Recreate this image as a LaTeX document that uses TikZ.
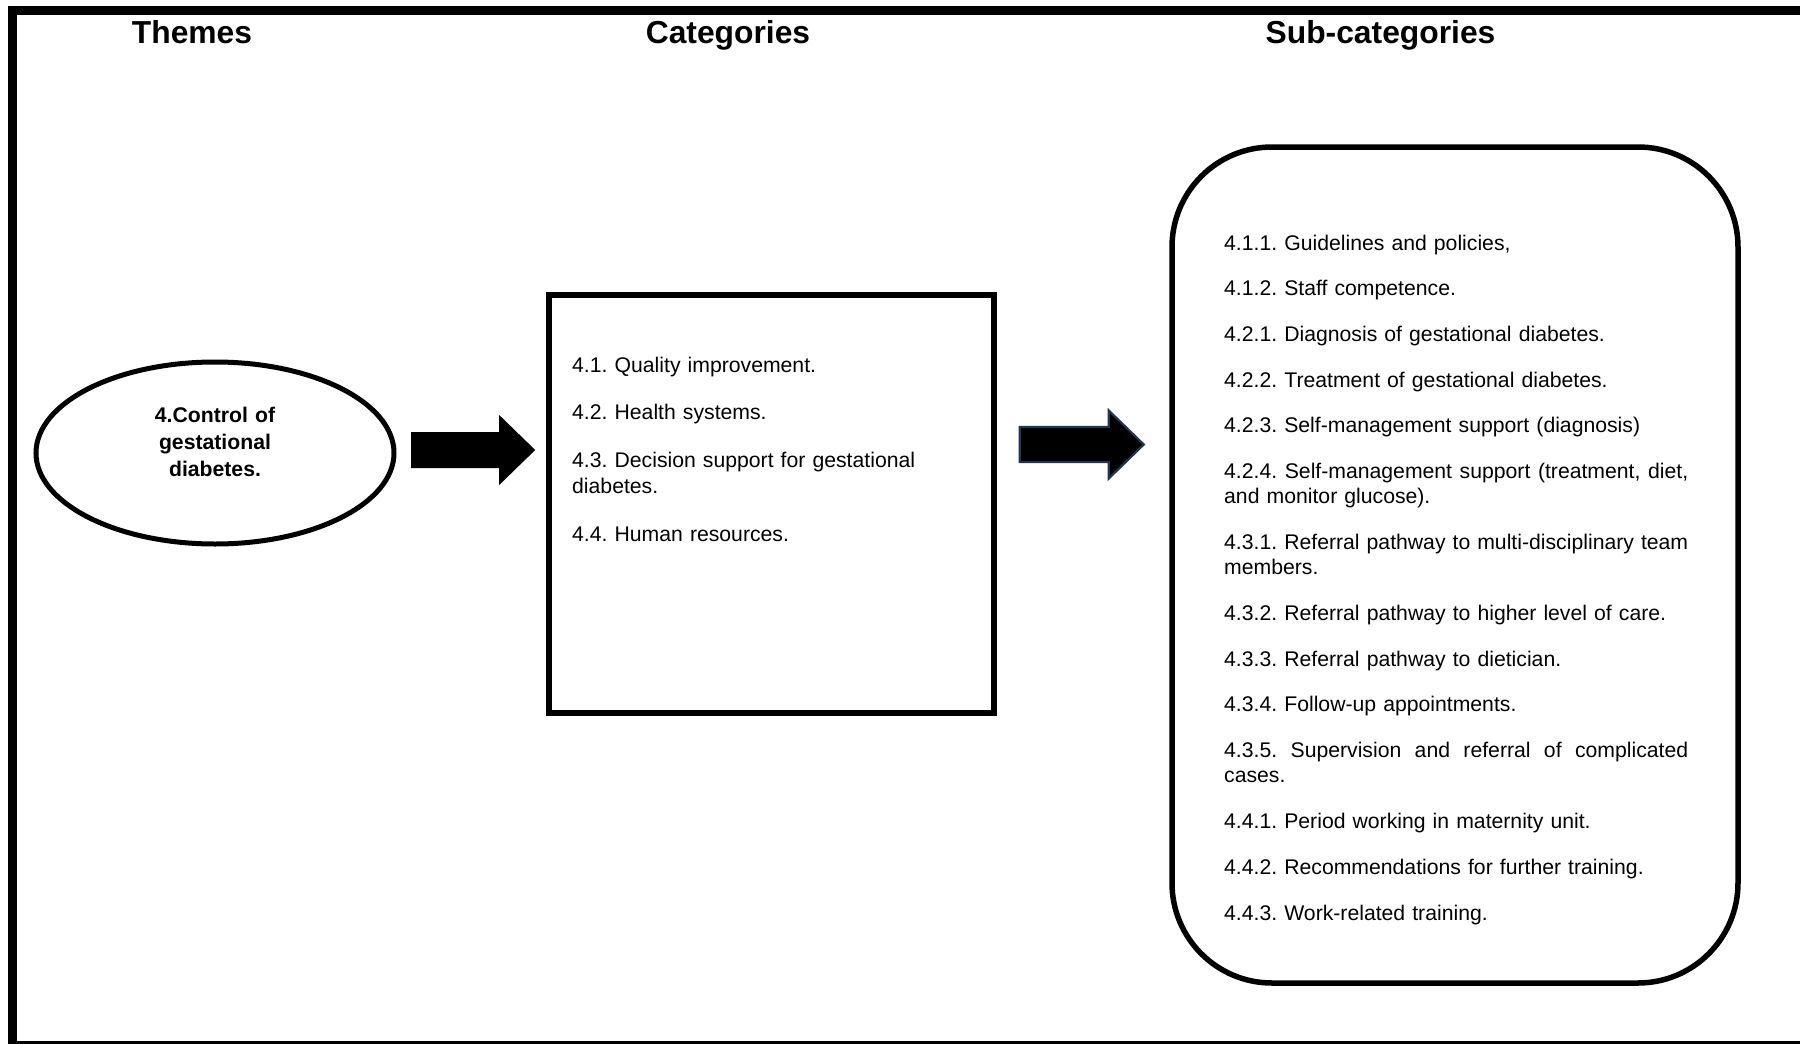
\documentclass[tikz,border=0pt]{standalone}
\usepackage{fontspec}
\setmainfont{Liberation Sans}
\usetikzlibrary{shapes.geometric,calc}
\definecolor{arrowedge}{HTML}{1F3552}
% a full-width line whose interword spaces stretch evenly
\newcommand{\fullline}[1]{\leavevmode\hbox to \linewidth{\spaceskip=0.278em plus 1fil\relax #1}}
\begin{document}
\begin{tikzpicture}[x=1pt,y=-1pt,
  frameline/.style={line width=9pt},
  heading/.style={font=\fontsize{31.8pt}{36pt}\selectfont\bfseries, anchor=base, inner sep=0pt},
  themeoval/.style={draw, ellipse, line width=5pt, minimum width=358pt, minimum height=182pt, inner sep=0pt},
  themetext/.style={font=\fontsize{21.2pt}{27pt}\selectfont\bfseries, text width=200pt, align=center, anchor=base, inner sep=0pt},
  catbox/.style={draw, line width=5.5pt, minimum width=445pt, minimum height=418pt, inner sep=0pt},
  subbox/.style={draw, line width=5.5pt, rounded corners=100pt, minimum width=566pt, minimum height=836pt, inner sep=0pt},
  listtext/.style={text width=#1, align=left, anchor=base west, inner sep=0pt},
  blockarrow/.style={fill=black, draw=black, line width=1pt, line join=miter},
  navyarrow/.style={fill=black, draw=arrowedge, line width=2.2pt, line join=miter}
]
\useasboundingbox (0,0) rectangle (1800,1044);
\clip (0,0) rectangle (1800,1044);

% outer frame
\draw[frameline] (12.5,10.5) rectangle (1812,1045.5);

% column headings
\node[heading] (hthemes) at (192,43) {Themes};
\node[heading] (hcats) at (728,43) {Categories};
\node[heading] (hsubs) at (1380.5,43) {Sub-categories};

% theme
\node[themeoval] (theme) at (215,453) {};
\node[themetext] (themelabel) at (215,422) {4.Control of\\gestational\\diabetes.};

% categories
\node[catbox] (cat) at (771.5,504) {};
\node[listtext=420pt, font=\fontsize{21.2pt}{26.5pt}\selectfont\frenchspacing] (catlist) at (572,372) {%
  \setlength{\parskip}{21pt}%
  4.1. Quality improvement.\par
  4.2. Health systems.\par
  4.3. Decision support for gestational\newline diabetes.\par
  4.4. Human resources.\par};

% sub-categories
\node[subbox] (sub) at (1455,565) {};
\node[listtext=464pt, font=\fontsize{21.2pt}{25.3pt}\selectfont\frenchspacing] (sublist) at (1224,250) {%
  \setlength{\parskip}{20.4pt}%
  4.1.1. Guidelines and policies,\par
  4.1.2. Staff competence.\par
  4.2.1. Diagnosis of gestational diabetes.\par
  4.2.2. Treatment of gestational diabetes.\par
  4.2.3. Self-management support (diagnosis)\par
  \fullline{4.2.4. Self-management support (treatment, diet,}\newline
  and monitor glucose).\par
  \fullline{4.3.1. Referral pathway to multi-disciplinary team}\newline
  members.\par
  4.3.2. Referral pathway to higher level of care.\par
  4.3.3. Referral pathway to dietician.\par
  4.3.4. Follow-up appointments.\par
  \fullline{4.3.5. Supervision and referral of complicated}\newline
  cases.\par
  4.4.1. Period working in maternity unit.\par
  4.4.2. Recommendations for further training.\par
  4.4.3. Work-related training.\par};

% block arrows between the columns
\coordinate (a1s) at ($(theme.east)+(15,-3)$);
\coordinate (a1e) at ($(a1s)+(123,0)$);
\path[blockarrow] ($(a1s)+(0,-17.5)$) -- ($(a1e)+(-35,-17.5)$) -- ($(a1e)+(-35,-34)$) -- (a1e)
  -- ($(a1e)+(-35,34)$) -- ($(a1e)+(-35,17.5)$) -- ($(a1s)+(0,17.5)$) -- cycle;

\coordinate (a2s) at ($(cat.east)+(23,-59.5)$);
\coordinate (a2e) at ($(a2s)+(124,0)$);
\path[navyarrow] ($(a2s)+(0,-17.5)$) -- ($(a2e)+(-35,-17.5)$) -- ($(a2e)+(-35,-34)$) -- (a2e)
  -- ($(a2e)+(-35,34)$) -- ($(a2e)+(-35,17.5)$) -- ($(a2s)+(0,17.5)$) -- cycle;
\end{tikzpicture}
\end{document}
